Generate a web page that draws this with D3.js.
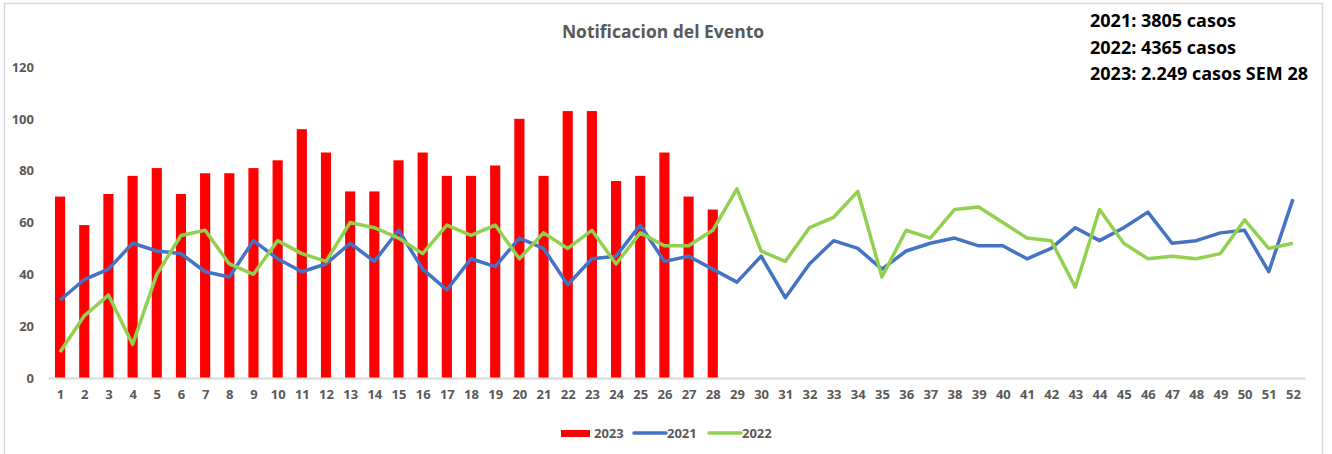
<!DOCTYPE html>
<html>
<head>
<meta charset="utf-8">
<script src="https://cdn.jsdelivr.net/npm/d3@7"></script>
<style>
  body { margin: 0; background: #fff; }
  .chart text { font-family: "Open Sans", sans-serif; }
  .axis text { fill: #595959; font-weight: bold; font-size: 13px; }
</style>
</head>
<body>
<div class="chart"></div>
<script>
// semanas epidemiologicas
let weeks = d3.range(1, 53);

let casos2023 = [70, 59, 71, 78, 81, 71, 79, 79, 81, 84, 96, 87, 72, 72, 84, 87, 78, 78, 82, 100,
  78, 103, 103, 76, 78, 87, 70, 65];

let casos2021 = [30, 38, 42, 52, 49, 48, 41, 39, 53, 46, 41, 44, 52, 45, 57, 42, 34, 46, 43, 54,
  50, 36, 46, 47, 59, 45, 47, 42, 37, 47, 31, 44, 53, 50, 42, 49, 52, 54, 51, 51,
  46, 50, 58, 53, 58, 64, 52, 53, 56, 57, 41, 69];

let casos2022 = [10, 24, 32, 13, 40, 55, 57, 44, 40, 53, 48, 45, 60, 58, 54, 48, 59, 55, 59, 46,
  56, 50, 57, 44, 56, 51, 51, 57, 73, 49, 45, 58, 62, 72, 39, 57, 54, 65, 66, 60,
  54, 53, 35, 65, 52, 46, 47, 46, 48, 61, 50, 52];

let yTicks = [0, 20, 40, 60, 80, 100, 120];

let totals = ["2021: 3805 casos", "2022: 4365 casos", "2023: 2.249 casos SEM 28"];

let W = 1332, H = 454;
let margin = { top: 67, right: 27, bottom: 76, left: 48 };
let width = W - margin.left - margin.right,
    height = H - margin.top - margin.bottom;

let svg = d3.select(".chart")
  .append("svg")
  .attr("width", W)
  .attr("height", H);

// marco del grafico
svg.append("rect")
  .attr("x", 4.5).attr("y", 3.5)
  .attr("width", 1318).attr("height", 460)
  .attr("fill", "none")
  .attr("stroke", "#d9d9d9")
  .attr("stroke-width", 1.5);

let g = svg.append("g")
  .attr("transform", "translate(" + margin.left + "," + margin.top + ")");

let x = d3.scaleBand()
  .domain(weeks)
  .range([0, width])
  .paddingInner(0.58)
  .paddingOuter(0.29);

let xc = d3.scalePoint()
  .domain(weeks)
  .range([0, width])
  .padding(0.5);

let y = d3.scaleLinear().domain([0, 120]).range([height, 0]);

let yAxis = d3.axisLeft(y).tickValues(yTicks).tickSize(0).tickPadding(14);
let xAxis = d3.axisBottom(xc).tickSize(0).tickPadding(12);

g.append("g").attr("class", "y-axis axis")
  .call(yAxis)
  .call(s => s.select(".domain").remove());

// barras 2023
g.selectAll(".bar")
  .data(casos2023)
  .enter()
  .append("rect")
  .attr("class", "bar")
  .attr("x", (d, i) => x(weeks[i]))
  .attr("width", x.bandwidth())
  .attr("y", d => y(d))
  .attr("height", d => height - y(d))
  .attr("fill", "#ff0000");

let line = d3.line()
  .x((d, i) => xc(weeks[i]))
  .y(d => y(d));

g.append("path")
  .datum(casos2021)
  .attr("d", line)
  .attr("fill", "none")
  .attr("stroke", "#4472c4")
  .attr("stroke-width", 3.5)
  .attr("stroke-linejoin", "round");

g.append("path")
  .datum(casos2022)
  .attr("d", line)
  .attr("fill", "none")
  .attr("stroke", "#92d050")
  .attr("stroke-width", 3.5)
  .attr("stroke-linejoin", "round");

let xAxisGroup = g.append("g").attr("class", "x-axis axis")
  .attr("transform", "translate(0," + height + ")")
  .call(xAxis);
xAxisGroup.select(".domain")
  .attr("stroke", "#d9d9d9")
  .attr("stroke-width", 2);

// titulo
svg.append("text")
  .attr("x", 663).attr("y", 38)
  .attr("text-anchor", "middle")
  .attr("fill", "#595959")
  .attr("font-size", "17.5px")
  .attr("font-weight", "bold")
  .text("Notificacion del Evento");

// totales
svg.selectAll(".total")
  .data(totals)
  .enter()
  .append("text")
  .attr("class", "total")
  .attr("x", 1090)
  .attr("y", (d, i) => 27 + i * 26.5)
  .attr("fill", "#000")
  .attr("font-size", "18px")
  .attr("font-weight", "bold")
  .text(d => d);

// leyenda
let legend = svg.append("g").attr("class", "legend")
  .attr("transform", "translate(561,433)");
let items = [
  { name: "2023", color: "#ff0000", type: "bar", x: 0 },
  { name: "2021", color: "#4472c4", type: "line", x: 73 },
  { name: "2022", color: "#92d050", type: "line", x: 148 }
];
items.forEach(it => {
  if (it.type == "bar") {
    legend.append("rect")
      .attr("x", it.x).attr("y", -3)
      .attr("width", 29).attr("height", 7)
      .attr("fill", it.color);
  } else {
    legend.append("line")
      .attr("x1", it.x).attr("x2", it.x + 32)
      .attr("y1", 0).attr("y2", 0)
      .attr("stroke", it.color)
      .attr("stroke-width", 3.5)
      .attr("stroke-linecap", "round");
  }
  legend.append("text")
    .attr("x", it.x + 33)
    .attr("y", 5)
    .attr("fill", "#595959")
    .attr("font-size", "13px")
    .attr("font-weight", "bold")
    .text(it.name);
});
</script>
</body>
</html>
